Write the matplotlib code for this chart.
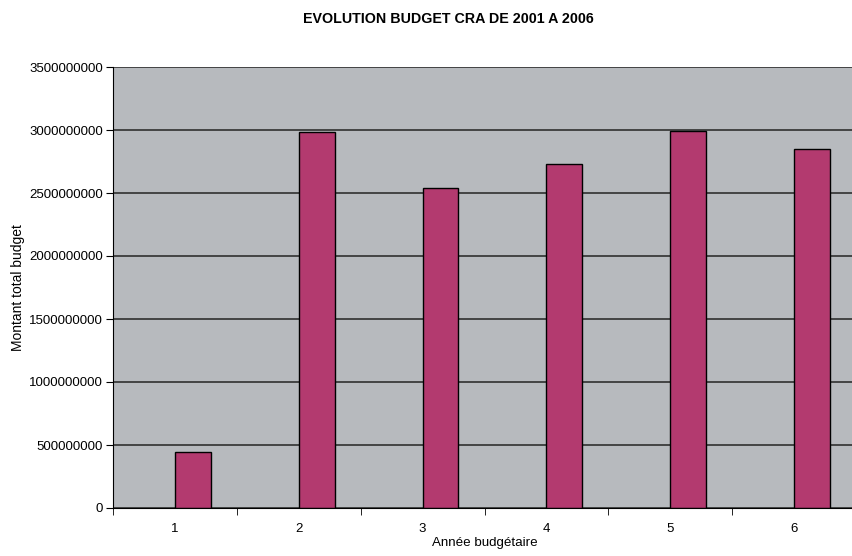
import numpy as np
import matplotlib
matplotlib.use("Agg")
import matplotlib.pyplot as plt
from matplotlib.ticker import FixedLocator, NullFormatter

plt.rcParams['font.family'] = ['Liberation Sans Narrow', 'Liberation Sans', 'DejaVu Sans']

annees = ["1", "2", "3", "4", "5", "6"]
budget = [447000000, 2987000000, 2542000000, 2728000000, 2995000000, 2849000000]
yticks = [0, 500000000, 1000000000, 1500000000, 2000000000, 2500000000, 3000000000, 3500000000]

fig = plt.figure(figsize=(8.52, 5.56), dpi=100)
ax = fig.add_axes([113/852, 1-508/556, 743/852, 441/556])
ax.set_facecolor("#b7babe")

x = np.arange(len(annees))
# barre calee a gauche sur le centre de la categorie (serie vide a cote)
ax.bar(x, budget, width=0.29, align="edge", color="#b33a6f", edgecolor="black", linewidth=1, zorder=3)

ax.set_xlim(-0.5, 5.5)
ax.set_ylim(0, 3500000000)
ax.set_yticks(yticks)
ax.set_yticklabels([str(v) for v in yticks])
ax.yaxis.grid(True, color="#303030", linewidth=1.2, zorder=1)
ax.set_axisbelow(True)

ax.set_xticks(x)
ax.set_xticklabels(annees)
ax.xaxis.set_minor_locator(FixedLocator(np.arange(-0.5, 6, 1)))
ax.xaxis.set_minor_formatter(NullFormatter())
ax.tick_params(axis="x", which="major", length=0, pad=11, labelsize=9.5)
ax.tick_params(axis="x", which="minor", length=5, direction="out", color="black")
ax.tick_params(axis="y", length=5, direction="out", labelsize=9.5, pad=2)

for s in ["top", "right"]:
    ax.spines[s].set_visible(False)
ax.spines["left"].set_color("black")
ax.spines["bottom"].set_color("black")
ax.spines["bottom"].set_zorder(4)

ax.set_xlabel("Année budgétaire", fontsize=9.6, labelpad=1)
ax.set_ylabel("Montant total budget", fontsize=10)
ax.yaxis.set_label_coords((25 - 113) / 743, 0.5)
fig.text(448/852, 1-19/556, "EVOLUTION BUDGET CRA DE 2001 A 2006", ha="center", va="center",
         fontsize=10.3, fontweight="bold")

fig.savefig("out.png", dpi=100)
